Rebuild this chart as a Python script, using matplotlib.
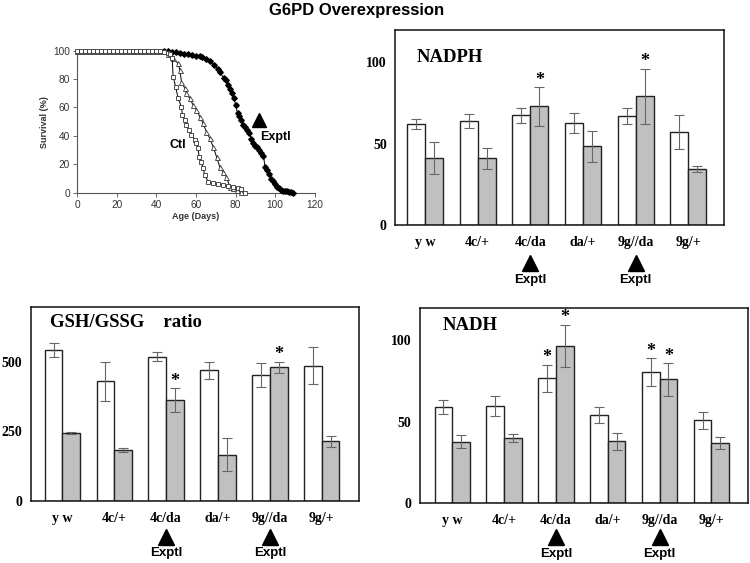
import numpy as np
import matplotlib
matplotlib.use("Agg")
import matplotlib.pyplot as plt

# ----------------- datos: curvas de supervivencia -----------------
ctl_a_days = [0, 2, 4, 6, 8, 10, 12, 14, 16, 18, 20, 22, 24, 26, 28, 30, 32, 34, 36, 38, 40, 42, 44,
              46, 47, 48, 48.5, 49.8, 51.0, 52.7, 53.2, 54.4, 55.2, 56.6, 57.7, 59.4, 60.3, 61.1,
              61.6, 62.8, 63.6, 64.5, 66.2, 68.7, 71.2, 73.7, 76.3, 78.8, 81.3, 83.0, 84.7]
ctl_a_surv = [100, 100, 100, 100, 100, 100, 100, 100, 100, 100, 100, 100, 100, 100, 100, 100, 100, 100,
              100, 100, 99.5, 99.5, 99, 98.5, 98, 95, 81.7, 74.6, 66.4, 60.6, 54.7, 51.2, 47.4, 44.1,
              40.6, 37.1, 34.7, 31.2, 25.4, 21.8, 17.1, 12.4, 7.7, 6.6, 5.9, 5.4, 4.7, 4.2, 3.1, 2.3, 0]

ctl_b_days = [0, 2, 4, 6, 8, 10, 12, 14, 16, 18, 20, 22, 24, 26, 28, 30, 32, 34, 36, 38, 40, 42, 44,
              46, 48.5, 51.0, 51.9, 52.7, 54.4, 55.2, 56.9, 58.6, 60.3, 62.0, 63.6, 65.3, 67.0,
              68.7, 70.4, 72.0, 73.7, 75.4, 77.1, 78.8, 80.5, 83.0]
ctl_b_surv = [100, 100, 100, 100, 100, 100, 100, 100, 100, 100, 100, 100, 100, 100, 100, 100, 100, 100,
              100, 100, 100, 99.5, 99.5, 98, 94.6, 91, 86.4, 78.2, 73.5, 70, 66.4, 61.7, 58.2, 53.5,
              48.8, 43, 38.3, 32.4, 25.4, 18.3, 14.8, 11.3, 4.2, 3.1, 1.9, 0.7]

exptl_days = [44, 46, 48, 50, 52, 54, 56, 58, 60, 62, 63, 65, 67, 69, 71, 72, 74, 75, 76, 77, 78, 79,
              80, 81, 82, 83, 84, 85, 86, 87, 88, 89, 90, 91, 92, 93, 94, 95, 96, 97, 98, 99, 100,
              101, 102, 103, 104, 105, 106, 107, 108, 109]
exptl_surv = [100, 99.5, 99, 99, 98.5, 98, 97.5, 97, 96.5, 96, 95.5, 94, 92.5, 90, 87, 85, 81, 79, 76,
              73, 70, 67, 62, 56, 54, 51, 48, 46, 44, 42, 38, 35, 33, 32, 30, 28, 26, 18, 16, 13, 10,
              8, 6, 4, 3, 2, 1.5, 1, 1, 0.8, 0.5, 0]

# ----------------- datos: barras -----------------
genotipos = ['y w', '4c/+', '4c/da', 'da/+', '9g//da', '9g/+']
exptl_idx = [2, 4]

nadph_blanco = [62.2, 63.7, 67.4, 62.6, 66.9, 57.1]
nadph_blanco_err = [3.0, 4.3, 4.6, 6.0, 5.0, 10.4]
nadph_gris = [41.1, 41.1, 72.9, 48.3, 79.1, 34.5]
nadph_gris_err = [10.0, 6.5, 11.7, 9.6, 17.0, 1.8]
nadph_star_blanco = []
nadph_star_gris = [2, 4]

gsh_blanco = [543, 431, 520, 470, 454, 487]
gsh_blanco_err = [26, 70, 16, 32, 44, 67]
gsh_gris = [243, 184, 362, 166, 481, 214]
gsh_gris_err = [3, 7, 43, 60, 21, 21]
gsh_star_blanco = []
gsh_star_gris = [2, 4]

nadh_blanco = [59.1, 59.7, 76.7, 54.4, 80.4, 50.9]
nadh_blanco_err = [4.3, 6.0, 8.4, 4.9, 8.6, 5.0]
nadh_gris = [37.8, 40.1, 96.7, 38.0, 76.1, 37.2]
nadh_gris_err = [3.9, 2.4, 13.0, 5.4, 10.0, 3.6]
nadh_star_blanco = [2, 4]
nadh_star_gris = [2, 4]

SERIF = 'Liberation Serif'
SANS = 'Liberation Sans'

fig = plt.figure(figsize=(7.5, 5.63), dpi=100)
fig.text(0.476, 0.982, 'G6PD Overexpression', ha='center', va='center',
         fontsize=12, fontweight='bold', family=SANS)

# ----------------- supervivencia -----------------
ax0 = fig.add_axes([0.1027, 0.6577, 0.317, 0.2523])
ax0.plot(exptl_days, exptl_surv, '-', color='black', lw=0.7, marker='D', ms=2.8,
         mfc='black', mec='black', clip_on=False, zorder=3)
ax0.plot(ctl_b_days, ctl_b_surv, '-', color='black', lw=0.7, marker='^', ms=3.6,
         mfc='white', mec='#333333', mew=0.6, clip_on=False, zorder=4)
ax0.plot(ctl_a_days, ctl_a_surv, '-', color='black', lw=0.7, marker='s', ms=3.4,
         mfc='white', mec='#333333', mew=0.6, clip_on=False, zorder=4)
ax0.set_xlim(0, 120)
ax0.set_ylim(0, 100)
ax0.set_xticks([0, 20, 40, 60, 80, 100, 120])
ax0.set_yticks([0, 20, 40, 60, 80, 100])
for s in ['top', 'right']:
    ax0.spines[s].set_visible(False)
for s in ['left', 'bottom']:
    ax0.spines[s].set_color('#555555')
    ax0.spines[s].set_linewidth(0.8)
ax0.tick_params(direction='out', length=3, width=0.6, colors='#555555', labelsize=7.3,
                labelcolor='#333333', pad=2)
for lab in ax0.get_xticklabels() + ax0.get_yticklabels():
    lab.set_family(SANS)
ax0.set_xlabel('Age (Days)', fontsize=6.5, fontweight='bold', family=SANS, labelpad=2, color='#333333')
ax0.set_ylabel('Survival (%)', fontsize=6.5, fontweight='bold', family=SANS, labelpad=3, color='#333333')
ax0.text(51, 33.6, 'Ctl', ha='center', va='center', fontsize=9, fontweight='bold', family=SANS)
ax0.plot([92], [51], marker='^', color='black', ms=10, ls='none')
ax0.text(92.5, 39.4, 'Exptl', ha='left', va='center', fontsize=9, fontweight='bold', family=SANS)


def panel_barras(rect, blanco, blanco_err, gris, gris_err, ymax, yticks, titulo, tit_xy,
                 star_b, star_g, tri_y, txt_y, xlim):
    ax = fig.add_axes(rect)
    x = np.arange(len(genotipos))
    w = 0.34
    ax.bar(x - w / 2, blanco, w, color='white', edgecolor='#222222', lw=1.0, zorder=2)
    ax.bar(x + w / 2, gris, w, color='#c0c0c0', edgecolor='#222222', lw=1.0, zorder=2)
    ax.errorbar(x - w / 2, blanco, yerr=blanco_err, fmt='none', ecolor='#666666',
                elinewidth=0.8, capsize=3.5, capthick=0.8, zorder=3)
    ax.errorbar(x + w / 2, gris, yerr=gris_err, fmt='none', ecolor='#666666',
                elinewidth=0.8, capsize=3.5, capthick=0.8, zorder=3)
    off = ymax * 0.035
    for i in star_b:
        ax.text(i - w / 2, blanco[i] + blanco_err[i] + off, '*', ha='center', va='center',
                fontsize=13, fontweight='bold', family=SERIF)
    for i in star_g:
        ax.text(i + w / 2, gris[i] + gris_err[i] + off, '*', ha='center', va='center',
                fontsize=13, fontweight='bold', family=SERIF)
    ax.set_xlim(*xlim)
    ax.set_ylim(0, ymax)
    ax.set_xticks(x)
    ax.set_xticklabels(genotipos)
    ax.set_yticks(yticks)
    ax.tick_params(length=0, labelsize=10, pad=8)
    ax.tick_params(axis='y', pad=6)
    for lab in ax.get_xticklabels() + ax.get_yticklabels():
        lab.set_family(SERIF)
        lab.set_fontweight('bold')
    for s in ax.spines.values():
        s.set_linewidth(1.1)
        s.set_color('#111111')
    ax.text(tit_xy[0], tit_xy[1], titulo, transform=ax.transAxes, ha='left', va='center',
            fontsize=13.5, fontweight='bold', family=SERIF)
    for i in exptl_idx:
        ax.plot([i], [tri_y], marker='^', color='black', ms=12, ls='none',
                transform=ax.get_xaxis_transform(), clip_on=False)
        ax.text(i, txt_y, 'Exptl', transform=ax.get_xaxis_transform(), ha='center',
                va='center', fontsize=9.5, fontweight='bold', family=SANS)
    return ax


panel_barras([0.5267, 0.6004, 0.4387, 0.3464], nadph_blanco, nadph_blanco_err, nadph_gris,
             nadph_gris_err, 120, [0, 50, 100], 'NADPH', (0.067, 0.86),
             nadph_star_blanco, nadph_star_gris, -0.195, -0.28, (-0.57, 5.68))

panel_barras([0.0409, 0.1107, 0.438, 0.3446], gsh_blanco, gsh_blanco_err, gsh_gris,
             gsh_gris_err, 700, [0, 250, 500], 'GSH/GSSG    ratio', (0.059, 0.916),
             gsh_star_blanco, gsh_star_gris, -0.187, -0.27, (-0.61, 5.72))

panel_barras([0.56, 0.106, 0.4377, 0.3474], nadh_blanco, nadh_blanco_err, nadh_gris,
             nadh_gris_err, 120, [0, 50, 100], 'NADH', (0.07, 0.908),
             nadh_star_blanco, nadh_star_gris, -0.172, -0.259, (-0.62, 5.71))

fig.savefig('out.png', dpi=100)
